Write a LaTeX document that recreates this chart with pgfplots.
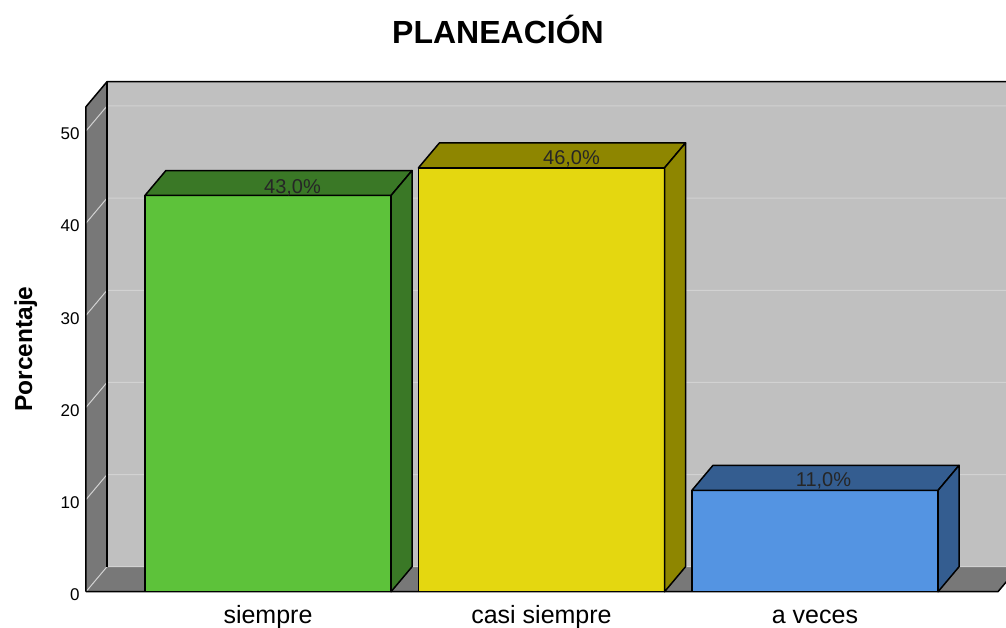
\documentclass[border=0pt]{standalone}
\usepackage{pgfplots}
\pgfplotsset{compat=1.18}
\usepackage{fontspec}
\setmainfont{Liberation Sans}
\definecolor{wallback}{HTML}{C0C0C0}
\definecolor{wallside}{HTML}{787878}
\definecolor{gridc}{HTML}{D2D2D2}
\definecolor{greenF}{HTML}{5DC23A}
\definecolor{greenD}{HTML}{3A7826}
\definecolor{yellowF}{HTML}{E4D710}
\definecolor{yellowD}{HTML}{8E8600}
\definecolor{blueF}{HTML}{5494E2}
\definecolor{blueD}{HTML}{345D90}
\begin{document}
\begin{tikzpicture}
\path[use as bounding box] (-86pt,-35.3pt) rectangle (920pt,591.7pt);
\begin{axis}[
  x=273.5pt, y=9.214pt,
  xmin=-0.6654, xmax=2.669, ymin=0, ymax=52.64,
  clip=false,
  axis line style={draw=none},
  tick style={draw=none},
  xtick={0,1,2}, xticklabels={siempre,casi siempre,a veces},
  ytick={0,10,20,30,40,50},
  /pgf/number format/assume math mode=true,
  xticklabel style={font=\fontsize{25}{29}\selectfont, anchor=base, yshift=-31.3pt},
  yticklabel style={font=\fontsize{17}{20}\selectfont, anchor=east, xshift=-3pt, yshift=-3pt},
  title={PLANEACIÓN},
  title style={font=\bfseries\fontsize{32}{38}\selectfont, at={(axis description cs:0.4518,1)}, anchor=base, yshift=57.4pt},
  ylabel={Porcentaje},
  ylabel style={font=\bfseries\fontsize{24.5}{29}\selectfont, at={(axis description cs:-0.0592,0.5)}, anchor=base},
]
% back wall
\fill[wallback] (axis cs:-0.5886,2.713) rectangle (axis cs:2.746,55.35);
% left wall
\fill[wallside] (axis cs:-0.6654,0) -- (axis cs:-0.6654,52.64) -- (axis cs:-0.5886,55.35) -- (axis cs:-0.5886,2.713) -- cycle;
% floor
\fill[wallside] (axis cs:-0.6654,0) -- (axis cs:-0.5886,2.713) -- (axis cs:2.746,2.713) -- (axis cs:2.669,0) -- cycle;
% grid lines
\draw[gridc, line width=1pt] (axis cs:-0.6654,0) -- (axis cs:-0.5886,2.713) -- (axis cs:2.746,2.713);
\draw[gridc, line width=1pt] (axis cs:-0.6654,10) -- (axis cs:-0.5886,12.713) -- (axis cs:2.746,12.713);
\draw[gridc, line width=1pt] (axis cs:-0.6654,20) -- (axis cs:-0.5886,22.713) -- (axis cs:2.746,22.713);
\draw[gridc, line width=1pt] (axis cs:-0.6654,30) -- (axis cs:-0.5886,32.713) -- (axis cs:2.746,32.713);
\draw[gridc, line width=1pt] (axis cs:-0.6654,40) -- (axis cs:-0.5886,42.713) -- (axis cs:2.746,42.713);
\draw[gridc, line width=1pt] (axis cs:-0.6654,50) -- (axis cs:-0.5886,52.713) -- (axis cs:2.746,52.713);
% outlines
\draw[black, line width=1.5pt, line join=round] (axis cs:-0.6654,0) -- (axis cs:-0.6654,52.64) -- (axis cs:-0.5886,55.35) -- (axis cs:2.746,55.35);
\draw[black, line width=1.5pt] (axis cs:-0.5886,2.713) -- (axis cs:-0.5886,55.35);
\draw[black, line width=1.5pt, line join=round] (axis cs:-0.6654,0) -- (axis cs:2.669,0) -- (axis cs:2.746,2.713);
% siempre
\addplot[ybar, bar width=246pt, bar shift=0pt, fill=greenF, draw=black, line width=1.5pt] coordinates {(0,43)};
\addplot[fill=greenD, draw=black, line width=1.5pt, line join=round] coordinates {(-0.45,43) (-0.3732,45.71) (0.5268,45.71) (0.45,43)} -- cycle;
\addplot[fill=greenD, draw=black, line width=1.5pt, line join=round] coordinates {(0.45,0) (0.45,43) (0.5268,45.71) (0.5268,2.713)} -- cycle;
% casi siempre
\addplot[ybar, bar width=246pt, bar shift=0pt, fill=yellowF, draw=black, line width=1.5pt] coordinates {(1,46)};
\addplot[fill=yellowD, draw=black, line width=1.5pt, line join=round] coordinates {(0.55,46) (0.6268,48.71) (1.5268,48.71) (1.45,46)} -- cycle;
\addplot[fill=yellowD, draw=black, line width=1.5pt, line join=round] coordinates {(1.45,0) (1.45,46) (1.5268,48.71) (1.5268,2.713)} -- cycle;
% a veces
\addplot[ybar, bar width=246pt, bar shift=0pt, fill=blueF, draw=black, line width=1.5pt] coordinates {(2,11)};
\addplot[fill=blueD, draw=black, line width=1.5pt, line join=round] coordinates {(1.55,11) (1.6268,13.71) (2.5268,13.71) (2.45,11)} -- cycle;
\addplot[fill=blueD, draw=black, line width=1.5pt, line join=round] coordinates {(2.45,0) (2.45,11) (2.5268,13.71) (2.5268,2.713)} -- cycle;
% value labels
\node[anchor=base, font=\fontsize{20}{24}\selectfont, text=black!85] at (axis cs:0.0896,43) [yshift=1.5pt] {43,0\%};
\node[anchor=base, font=\fontsize{20}{24}\selectfont, text=black!85] at (axis cs:1.1097,46) [yshift=3.5pt] {46,0\%};
\node[anchor=base, font=\fontsize{20}{24}\selectfont, text=black!85] at (axis cs:2.0311,11) [yshift=4pt] {11,0\%};
\end{axis}
\end{tikzpicture}
\end{document}
